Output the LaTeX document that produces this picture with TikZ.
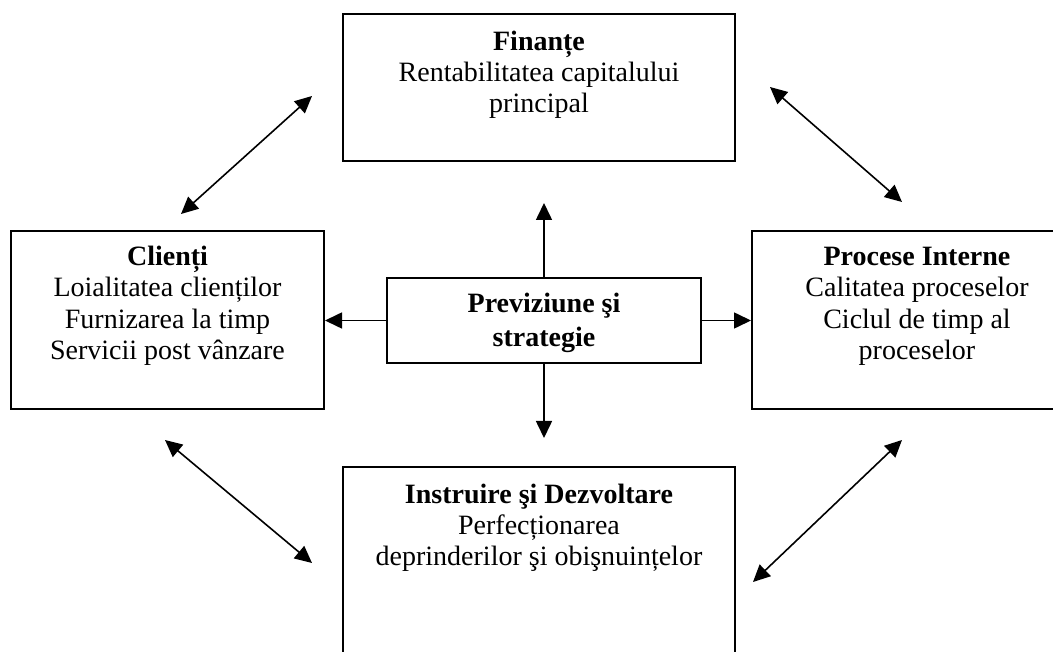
\documentclass[tikz,border=0pt]{standalone}
\usepackage{fontspec}
\setmainfont{Liberation Serif}
\usetikzlibrary{arrows.meta}
\begin{document}
\begin{tikzpicture}[x=1pt,y=-1pt,
  panel/.style={draw, line width=2pt, inner sep=0pt, rectangle},
  % multi-line labels are placed by the baseline of their last line
  label/.style={align=center, inner sep=0pt, font=\fontsize{28}{31.5}\selectfont, anchor=base},
  link/.style={line width=1.6pt, -{Triangle[length=17pt,width=16pt]}},
  twoway/.style={line width=1.6pt, {Triangle[length=17pt,width=16pt]}-{Triangle[length=17pt,width=16pt]}}]
\useasboundingbox (0,0) rectangle (1053,652);
\clip (0,0) rectangle (1053,652);

% the five boxes
\node[panel, minimum width=392pt, minimum height=147pt] (fin) at (539,87.5) {};
\node[panel, minimum width=313pt, minimum height=178pt] (cli) at (167.5,320) {};
\node[panel, minimum width=330pt, minimum height=178pt] (pro) at (917,320) {};
\node[panel, minimum width=314pt, minimum height=85pt] (cen) at (544,320.5) {};
\node[panel, minimum width=392pt, minimum height=283pt] (ins) at (539,608.5) {};

% box texts
\node[label, font=\fontsize{28}{31}\selectfont] (finT) at (539,113) {\textbf{Finanțe}\\Rentabilitatea capitalului\\principal};
\node[label] (cliT) at (167.5,360) {\textbf{Clienți}\\Loialitatea clienților\\Furnizarea la timp\\Servicii post vânzare};
\node[label] (proT) at (917,360) {\textbf{Procese Interne}\\Calitatea proceselor\\Ciclul de timp al\\proceselor};
\node[label, font=\fontsize{28}{33.5}\selectfont\bfseries] (cenT) at (544,346.5) {Previziune şi\\strategie};
\node[label, font=\fontsize{28}{31}\selectfont] (insT) at (539,565) {\textbf{Instruire şi Dezvoltare}\\Perfecționarea\\deprinderilor şi obişnuințelor};

% arrows leaving the centre box
\coordinate (upTip) at (544,203);
\coordinate (dnTip) at (544,438);
\draw[link] (cen.north) -- (upTip);
\draw[link] (cen.south) -- (dnTip);
\draw[link] (cen.west) -- (cen.west -| cli.east);
\draw[link] (cen.east) -- (cen.east -| pro.west);

% two-way arrows between neighbouring perspectives
\coordinate (tlA) at (181,214);  \coordinate (tlB) at (312,96);
\coordinate (trA) at (770,87);   \coordinate (trB) at (902,202);
\coordinate (blA) at (165,440);  \coordinate (blB) at (312,563);
\coordinate (brA) at (902,440);  \coordinate (brB) at (753,582);
\draw[twoway] (tlA) -- (tlB);
\draw[twoway] (trA) -- (trB);
\draw[twoway] (blA) -- (blB);
\draw[twoway] (brA) -- (brB);
\end{tikzpicture}
\end{document}
